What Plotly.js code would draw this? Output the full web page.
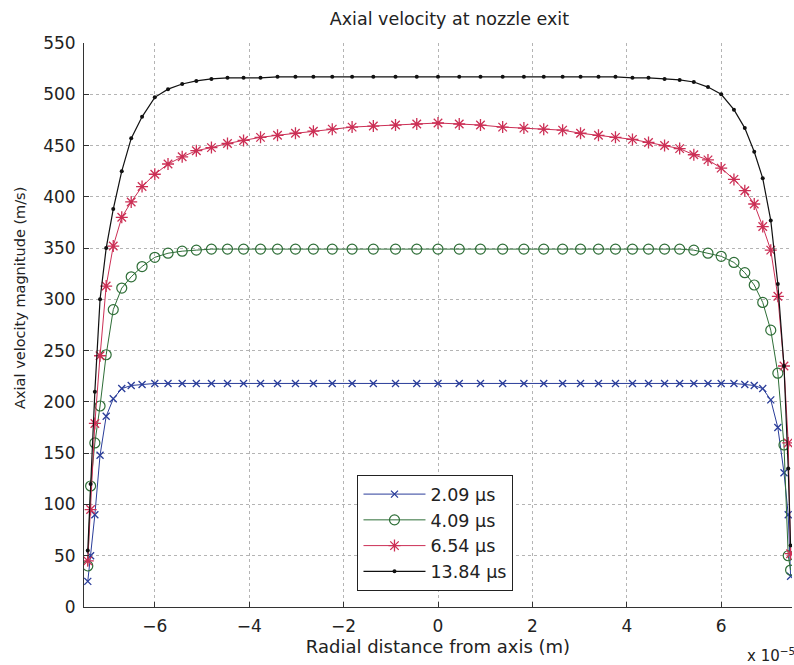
<!DOCTYPE html>
<html>
<head>
<meta charset="utf-8">
<script src="https://cdn.plot.ly/plotly-3.0.1.min.js"></script>
<style>html,body{margin:0;padding:0;background:#fff;}#chart{width:794px;height:665px;}</style>
</head>
<body>
<div id="chart"></div>
<script>
// Radial positions (units of 1e-5 m)
const radius = [-7.42, -7.36, -7.27, -7.16, -7.03, -6.88, -6.70, -6.50, -6.27, -6.00, -5.72, -5.42, -5.12, -4.80, -4.46, -4.12, -3.76, -3.40, -3.02, -2.64, -2.24, -1.82, -1.37, -0.90, -0.45, 0,
  0.45, 0.90, 1.37, 1.82, 2.24, 2.64, 3.02, 3.40, 3.76, 4.12, 4.46, 4.80, 5.12, 5.42, 5.72, 6.00, 6.27, 6.50, 6.70, 6.88, 7.05, 7.20, 7.33, 7.42, 7.47];

const seriesNames = ["2.09 \u00b5s", "4.09 \u00b5s", "6.54 \u00b5s", "13.84 \u00b5s"];

const vel_209 = [25, 50, 90, 148, 186, 203, 213, 216, 217, 218, 218, 218, 218, 218, 218, 218, 218, 218, 218, 218, 218, 218, 218, 218, 218, 218,
  218, 218, 218, 218, 218, 218, 218, 218, 218, 218, 218, 218, 218, 218, 218, 218, 218, 217, 216, 213, 202, 175, 131, 90, 30];

const vel_409 = [40, 118, 160, 196, 246, 290, 311, 322, 332, 341, 345, 347, 348, 349, 349, 349, 349, 349, 349, 349, 349, 349, 349, 349, 349, 349,
  349, 349, 349, 349, 349, 349, 349, 349, 349, 349, 349, 349, 349, 348, 345, 342, 336, 326, 314, 297, 270, 228, 158, 50, 36];

const vel_654 = [45, 95, 179, 245, 313, 352, 380, 395, 410, 422, 432, 439, 445, 448, 452, 455, 458, 460, 462, 464, 466, 468, 469, 470, 471, 472,
  471, 470, 468, 467, 466, 465, 462, 460, 458, 456, 453, 450, 447, 441, 436, 428, 417, 406, 393, 371, 348, 303, 235, 160, 52];

const vel_1384 = [55, 120, 210, 300, 350, 388, 425, 457, 478, 497, 505, 510, 513, 515, 516, 516, 516, 517, 517, 517, 517, 517, 517, 517, 517, 517,
  517, 517, 517, 517, 517, 517, 517, 517, 517, 516, 516, 515, 514, 512, 507, 500, 485, 467, 444, 418, 377, 315, 235, 135, 60];

const xTicks = [-6, -4, -2, 0, 2, 4, 6];
const xTickText = ["\u22126", "\u22124", "\u22122", "0", "2", "4", "6"];
const yTicks = [0, 50, 100, 150, 200, 250, 300, 350, 400, 450, 500, 550];

const FONT = "DejaVu Sans, Liberation Sans, Arial, sans-serif";
const TXT = "#222";

const traces = [
  {x: radius, y: vel_209, name: seriesNames[0], mode: "lines+markers",
   line: {color: "#2a3d9a", width: 1}, marker: {symbol: "x-thin-open", size: 7, color: "#2a3d9a", line: {width: 1.3, color: "#2a3d9a"}}},
  {x: radius, y: vel_409, name: seriesNames[1], mode: "lines+markers",
   line: {color: "#2e6e37", width: 1}, marker: {symbol: "circle-open", size: 10, color: "#2e6e37", line: {width: 1.2, color: "#2e6e37"}}},
  {x: radius, y: vel_654, name: seriesNames[2], mode: "lines+markers",
   line: {color: "#cc2f55", width: 1}, marker: {symbol: "asterisk-open", size: 10, color: "#cc2f55", line: {width: 1.3, color: "#cc2f55"}}},
  {x: radius, y: vel_1384, name: seriesNames[3], mode: "lines+markers",
   line: {color: "#111111", width: 1.2}, marker: {symbol: "circle", size: 4, color: "#111111"}}
];

const layout = {
  width: 794, height: 665,
  margin: {l: 84, r: 2, t: 43, b: 58},
  paper_bgcolor: "#ffffff", plot_bgcolor: "#ffffff",
  font: {family: FONT, size: 16, color: TXT},
  title: {text: "Axial velocity at nozzle exit", x: 0.566, xanchor: "center", y: 0.972, yanchor: "middle", font: {family: FONT, size: 17.5, color: TXT}},
  showlegend: true,
  legend: {x: 0.386, y: 0.234, xanchor: "left", yanchor: "top", bgcolor: "#ffffff", bordercolor: "#222", borderwidth: 1.2,
           font: {family: FONT, size: 17.5, color: TXT}, tracegroupgap: 0, itemwidth: 62},
  xaxis: {range: [-7.5, 7.5], tickvals: xTicks, ticktext: xTickText, showgrid: true, gridcolor: "#b4b4b4", griddash: "dot", gridwidth: 1,
          zeroline: false, showline: true, linecolor: "#333", linewidth: 1, ticks: "inside", ticklen: 5, tickcolor: "#333",
          ticklabelstandoff: 4, tickfont: {family: FONT, size: 17, color: TXT},
          title: {text: "Radial distance from axis (m)", standoff: 4, font: {family: FONT, size: 18, color: TXT}}},
  yaxis: {range: [0, 550], tickvals: yTicks, showgrid: true, gridcolor: "#b4b4b4", griddash: "dot", gridwidth: 1,
          zeroline: false, showline: true, linecolor: "#333", linewidth: 1, ticks: "inside", ticklen: 5, tickcolor: "#333",
          ticklabelstandoff: 4, tickfont: {family: FONT, size: 17, color: TXT}},
  annotations: [
    {xref: "paper", yref: "paper", x: -0.0904, y: 0.548, xanchor: "center", yanchor: "middle", showarrow: false, textangle: -90,
     text: "Axial velocity magnitude (m/s)", font: {family: FONT, size: 14.5, color: TXT}},
    {xref: "paper", yref: "paper", x: 0.934, y: -0.085, xanchor: "left", yanchor: "middle", showarrow: false,
     text: "x 10<sup>\u22125</sup>", font: {family: FONT, size: 15, color: TXT}}
  ]
};

Plotly.newPlot("chart", traces, layout, {displayModeBar: false, staticPlot: true});
</script>
</body>
</html>
